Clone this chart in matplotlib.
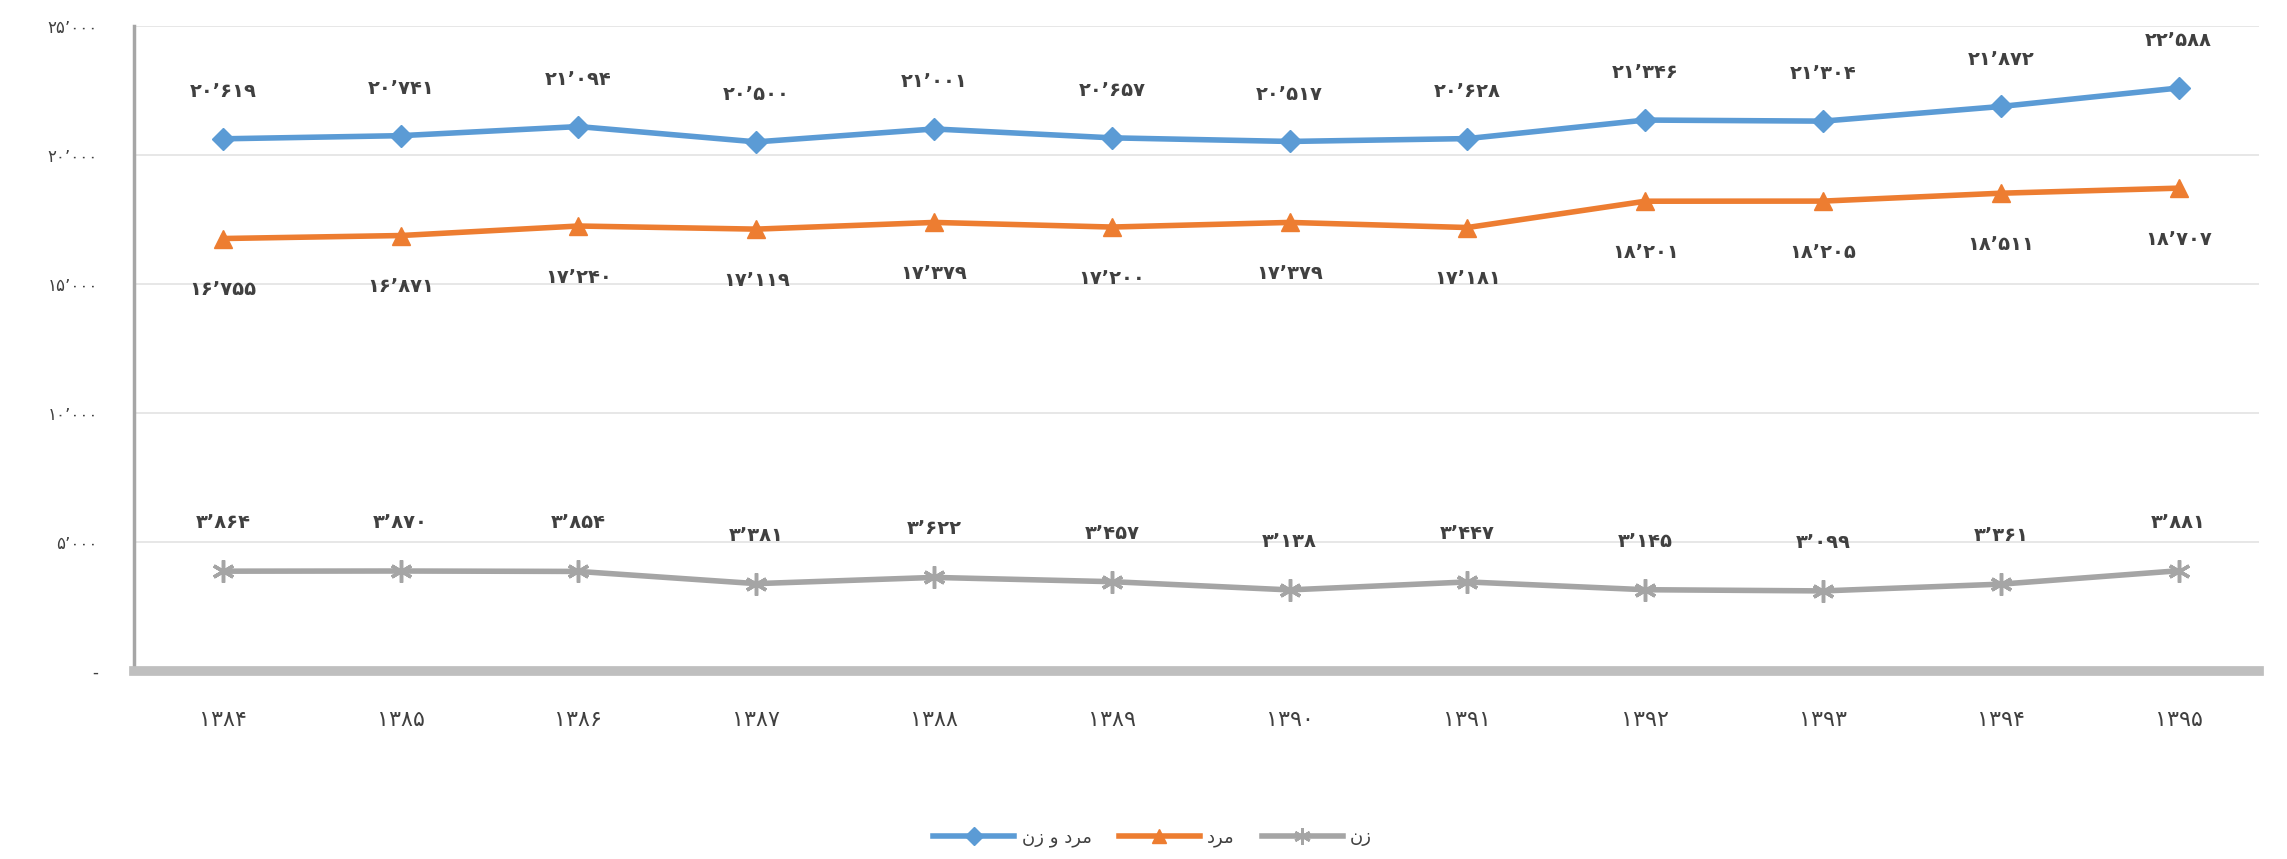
import matplotlib
matplotlib.use("Agg")
import matplotlib.pyplot as plt
from matplotlib.lines import Line2D

plt.rcParams['font.family'] = ['DejaVu Sans']

# ---- data ----
years = ["۱۳۸۴", "۱۳۸۵", "۱۳۸۶", "۱۳۸۷", "۱۳۸۸", "۱۳۸۹",
         "۱۳۹۰", "۱۳۹۱", "۱۳۹۲", "۱۳۹۳", "۱۳۹۴", "۱۳۹۵"]
total = [20619, 20741, 21094, 20500, 21001, 20657, 20517, 20628, 21346, 21304, 21872, 22588]
men = [16755, 16871, 17240, 17119, 17379, 17200, 17379, 17181, 18201, 18205, 18511, 18707]
women = [3864, 3870, 3854, 3381, 3622, 3457, 3138, 3447, 3145, 3099, 3361, 3881]
series_names = ["مرد و زن", "مرد", "زن"]
yticks = [0, 5000, 10000, 15000, 20000, 25000]

# ---- helpers ----
FORMS = {  # isolated, final, initial, medial
    'م': ('\uFEE1', '\uFEE2', '\uFEE3', '\uFEE4'),
    'ن': ('\uFEE5', '\uFEE6', '\uFEE7', '\uFEE8'),
    'ر': ('\uFEAD', '\uFEAE'),
    'د': ('\uFEA9', '\uFEAA'),
    'و': ('\uFEED', '\uFEEE'),
    'ز': ('\uFEAF', '\uFEB0'),
}


def shape(s):
    out = []
    for i, ch in enumerate(s):
        if ch not in FORMS:
            out.append(ch)
            continue
        f = FORMS[ch]
        prev = s[i - 1] if i > 0 else None
        nxt = s[i + 1] if i + 1 < len(s) else None
        pj = prev in FORMS and len(FORMS[prev]) == 4
        nj = len(f) == 4 and nxt in FORMS
        if pj and nj:
            out.append(f[3])
        elif pj:
            out.append(f[1])
        elif nj:
            out.append(f[2])
        else:
            out.append(f[0])
    return ''.join(reversed(out))


PD = str.maketrans("0123456789", "۰۱۲۳۴۵۶۷۸۹")


def fa(n):
    if n == 0:
        return "-"
    return f"{n:,}".replace(",", "\u066C").translate(PD)


# ---- figure ----
fig = plt.figure(figsize=(22.87, 8.59), dpi=100)
ax = fig.add_axes([0.0586, 0.219, 0.929, 0.751])

x = list(range(len(years)))
c_blue, c_orange, c_gray = "#5B9BD5", "#ED7D31", "#A5A5A5"
lw = 4
ax.plot(x, total, color=c_blue, lw=lw, marker="D", ms=11, zorder=4)
ax.plot(x, men, color=c_orange, lw=lw, marker="^", ms=13, zorder=4)
ax.plot(x, women, color=c_gray, lw=lw, marker=(6, 2, 0), ms=16, mew=2.5, zorder=4)

lab_kw = dict(textcoords="offset points", ha="center", va="center",
              fontsize=14, color="#404040", fontweight="bold")
for i in x:
    ax.annotate(fa(total[i]), (i, total[i]), xytext=(0, 34), **lab_kw)
    ax.annotate(fa(men[i]), (i, men[i]), xytext=(0, -37), **lab_kw)
    ax.annotate(fa(women[i]), (i, women[i]), xytext=(0, 35), **lab_kw)

ax.set_xlim(-0.5, 11.45)
ax.set_ylim(0, 25000)
ax.set_yticks(yticks)
ax.set_yticklabels([fa(v) for v in yticks], fontsize=12, color="#404040")
ax.set_xticks(x)
ax.set_xticklabels(years, fontsize=16, color="#404040")
ax.tick_params(axis="both", length=0)
ax.tick_params(axis="x", pad=28)
ax.tick_params(axis="y", pad=26)

ax.grid(axis="y", color="#E3E3E3", lw=1.2)
ax.set_axisbelow(True)
for s in ("top", "right"):
    ax.spines[s].set_visible(False)
ax.spines["left"].set_color("#A6A6A6")
ax.spines["left"].set_linewidth(2.5)
ax.spines["bottom"].set_color("#BFBFBF")
ax.spines["bottom"].set_linewidth(7)

handles = [
    Line2D([], [], color=c_blue, lw=lw, marker="D", ms=9),
    Line2D([], [], color=c_orange, lw=lw, marker="^", ms=10),
    Line2D([], [], color=c_gray, lw=lw, marker=(6, 2, 0), ms=12, mew=2),
]
fig.legend(handles, [shape(n) for n in series_names], loc="center",
           bbox_to_anchor=(0.504, 0.025), ncol=3, frameon=False, fontsize=13,
           handlelength=4.5, columnspacing=1.5, handletextpad=0.4,
           labelcolor="#404040")

fig.savefig("out.png", dpi=100, facecolor="white")
